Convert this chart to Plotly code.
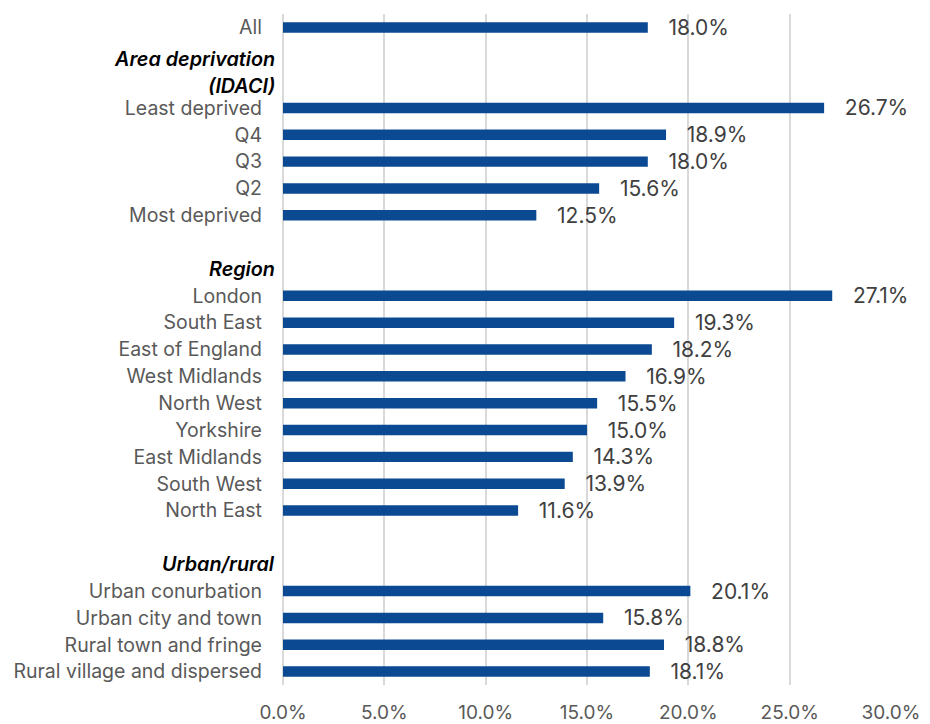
import plotly.graph_objects as go

# rows top to bottom; None = header or spacer row without a bar
row_ids = [
    "All", "gap1", "hdr_idaci",
    "Least deprived", "Q4", "Q3", "Q2", "Most deprived",
    "gap2", "hdr_region",
    "London", "South East", "East of England", "West Midlands", "North West",
    "Yorkshire", "East Midlands", "South West", "North East",
    "gap3", "hdr_urban",
    "Urban conurbation", "Urban city and town", "Rural town and fringe",
    "Rural village and dispersed",
]
values = [
    18.0, None, None,
    26.7, 18.9, 18.0, 15.6, 12.5,
    None, None,
    27.1, 19.3, 18.2, 16.9, 15.5, 15.0, 14.3, 13.9, 11.6,
    None, None,
    20.1, 15.8, 18.8, 18.1,
]
# group headers: (row the text sits on, text)
header_lines = [
    ("gap1", "Area deprivation"),
    ("hdr_idaci", "(IDACI)"),
    ("hdr_region", "Region"),
    ("hdr_urban", "Urban/rural"),
]
x_ticks = [0, 5, 10, 15, 20, 25, 30]

BAR = "#0B4A92"
LABEL = "#595959"
VALUE = "#404040"
FONT = "Inter"


def tick_label(rid):
    if rid.startswith("gap") or rid.startswith("hdr"):
        return ""
    return rid


xs = [v / 100 if v is not None else None for v in values]
texts = ["   %.1f%%" % v if v is not None else "" for v in values]

fig = go.Figure()
fig.add_trace(go.Bar(
    y=row_ids, x=xs, orientation="h",
    marker=dict(color=BAR, line=dict(width=0)),
    text=texts, textposition="outside", cliponaxis=False,
    constraintext="none",
    textfont=dict(color=VALUE, size=21, family=FONT),
    hoverinfo="skip",
))

# IDACI header sits a little lower than its rows in the original
shift = {"gap1": -5, "hdr_idaci": -5}
for rid, txt in header_lines:
    fig.add_annotation(
        x=0, xref="paper", y=rid, yref="y",
        xanchor="right", yanchor="middle",
        xshift=-6, yshift=shift.get(rid, 0),
        text="<i>%s</i>" % txt, showarrow=False,
        font=dict(family=FONT, size=19.8, color="#000000", weight=600),
    )

# the page adds an 8px body margin, so the figure is a bit smaller than the window
fig.update_layout(
    width=922, height=716,
    margin=dict(l=275, r=39, t=6, b=39),
    paper_bgcolor="white", plot_bgcolor="white",
    font=dict(family=FONT, size=19.5, color=LABEL),
    bargap=0.61,
    showlegend=False,
)
fig.update_xaxes(
    range=[0, 0.30], tickvals=[t / 100 for t in x_ticks],
    ticktext=["%.1f%%" % t for t in x_ticks],
    showgrid=True, gridcolor="#D9D9D9", gridwidth=2,
    zeroline=True, zerolinecolor="#D9D9D9", zerolinewidth=2,
    showline=False, ticks="",
    ticklabelstandoff=14,
    tickfont=dict(size=19, color=LABEL),
    automargin=False,
)
fig.update_yaxes(
    type="category", categoryorder="array", categoryarray=row_ids,
    autorange="reversed",
    tickvals=row_ids, ticktext=[tick_label(r) for r in row_ids],
    ticks="", showgrid=False, zeroline=False, showline=False,
    ticklabelstandoff=20,
    tickfont=dict(size=19.5, color=LABEL),
    automargin=False,
)

fig.write_html("out.html")
